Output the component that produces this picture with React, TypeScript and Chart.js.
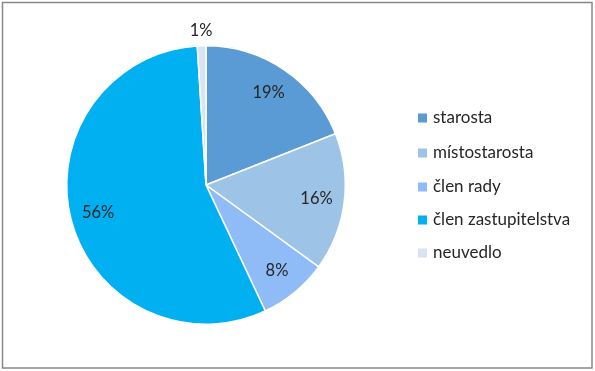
import React, { useEffect, useRef } from "react";
import { Chart, registerables } from "chart.js";

Chart.register(...registerables);

const categories = ["starosta", "místostarosta", "člen rady", "člen zastupitelstva", "neuvedlo"];
const values = [19, 16, 8, 56, 1];
const valueLabels = ["19%", "16%", "8%", "56%", "1%"];
const colors = ["#5B9BD5", "#9DC3E6", "#8FBCF7", "#00B0F0", "#DAE3F3"];

const FONT = "Lato, 'Open Sans', sans-serif";

const overlay = {
  id: "overlay",
  afterDraw(chart: any) {
    const ctx = chart.ctx;
    const meta = chart.getDatasetMeta(0);
    ctx.save();
    ctx.font = `16.5px ${FONT}`;
    ctx.fillStyle = "#262626";
    ctx.textAlign = "center";
    ctx.textBaseline = "middle";
    meta.data.forEach((arc: any, i: number) => {
      const mid = (arc.startAngle + arc.endAngle) / 2;
      const r = arc.outerRadius;
      const f = values[i] < 3 ? 1.11 : 0.8;
      const x = arc.x + Math.cos(mid) * r * f;
      const y = arc.y + Math.sin(mid) * r * f;
      ctx.fillText(valueLabels[i], x, y);
    });
    // legend
    ctx.textAlign = "left";
    ctx.font = `17px ${FONT}`;
    const lx = 418;
    const ys = [118, 153, 187, 220, 253];
    categories.forEach((c, i) => {
      ctx.fillStyle = colors[i];
      ctx.fillRect(lx, ys[i] - 4.5, 9, 9);
      ctx.fillStyle = "#262626";
      ctx.fillText(c, lx + 15, ys[i]);
    });
    // border
    ctx.strokeStyle = "#888888";
    ctx.lineWidth = 1.5;
    ctx.strokeRect(2.5, 2.5, 589.5, 365.5);
    ctx.restore();
  },
};

export default function App() {
  const ref = useRef<HTMLCanvasElement>(null);
  useEffect(() => {
    document.body.style.margin = "0";
    const chart = new Chart(ref.current!, {
      type: "pie",
      data: {
        labels: categories,
        datasets: [
          {
            data: values,
            backgroundColor: colors,
            borderColor: "#ffffff",
            borderWidth: 1.5,
          },
        ],
      },
      options: {
        animation: false,
        responsive: false,
        layout: { padding: { left: 66, right: 249, top: 45, bottom: 46 } },
        plugins: { legend: { display: false }, tooltip: { enabled: false } },
      },
      plugins: [overlay],
    });
    return () => chart.destroy();
  }, []);
  return (
    <div style={{ width: 595, height: 371, background: "#fff" }}>
      <canvas ref={ref} width={595} height={371} />
    </div>
  );
}
